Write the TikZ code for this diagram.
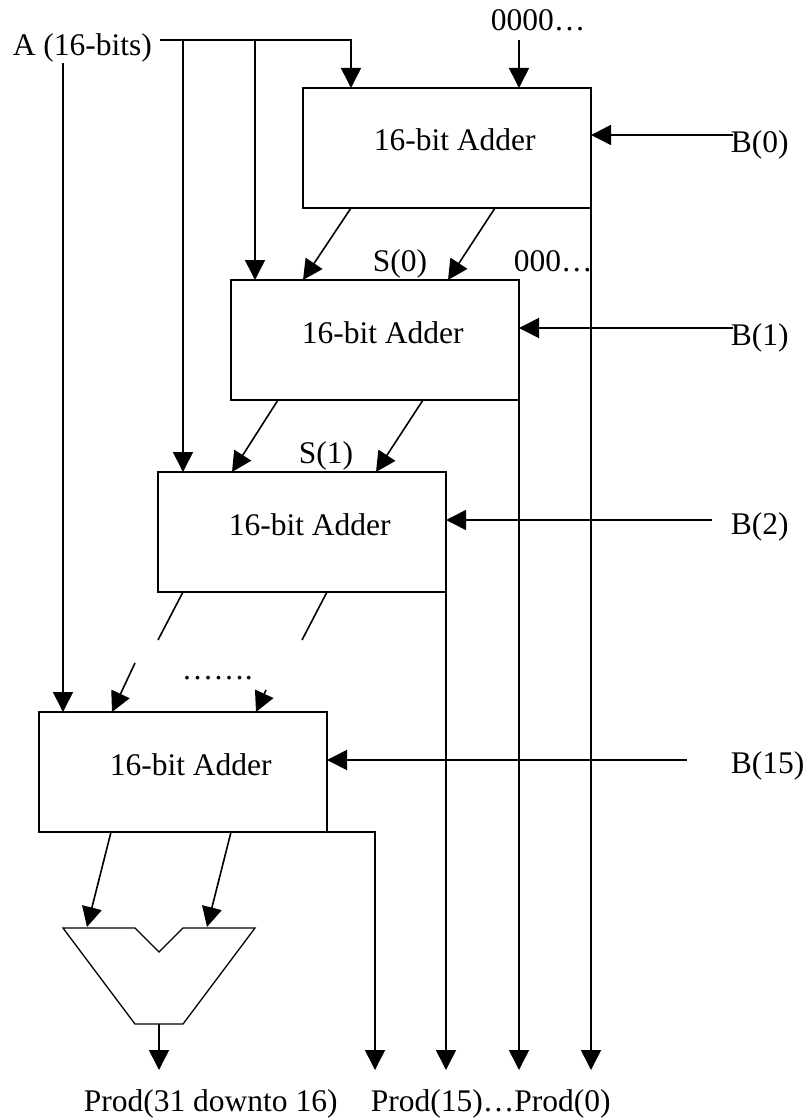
\documentclass[tikz,border=0pt]{standalone}
\usepackage{fontspec}
\setmainfont{Liberation Serif}
\usetikzlibrary{arrows.meta}
\begin{document}
\begin{tikzpicture}[x=1pt,y=-1pt,
  line width=1.6pt,
  every node/.style={inner sep=0pt, font=\fontsize{31.5pt}{36pt}\selectfont},
  adder/.style={draw, rectangle, minimum width=288pt, minimum height=120pt, anchor=north west, outer sep=0pt},
  arr/.style={-{Triangle[length=20pt,width=20pt]}},
  lbl/.style={anchor=base west}]
\useasboundingbox (0,0) rectangle (807,1118);

% adders
\node[adder] (b1) at (303,88) {};
\node[adder] (b2) at (231,280) {};
\node[adder] (b3) at (158,472) {};
\node[adder] (b4) at (39,712) {};
\node[lbl] (t1) at ([xshift=70pt,yshift=-63pt]b1.north west) {16-bit Adder};
\node[lbl] (t2) at ([xshift=70pt,yshift=-63pt]b2.north west) {16-bit Adder};
\node[lbl] (t3) at ([xshift=70pt,yshift=-63pt]b3.north west) {16-bit Adder};
\node[lbl] (t4) at ([xshift=70pt,yshift=-63pt]b4.north west) {16-bit Adder};

% labels
\node[lbl] (A) at (12,56) {A (16-bits)};
\node[lbl] (zeros) at (490,31) {0000…};
\node[lbl] (s0) at (372,271) {S(0)};
\node[lbl] (z3) at (513,271) {000…};
\node[lbl] (s1) at (298,463) {S(1)};
\node[lbl] (B0) at (730,153) {B(0)};
\node[lbl] (B1) at (730,345) {B(1)};
\node[lbl] (B2) at (730,534) {B(2)};
\node[lbl] (B15) at (730,773) {B(15)};
\node[lbl] (dots) at (181,679) {…….};
\node[lbl] (p1) at (83,1111) {Prod(31 downto 16)};
\node[lbl] (p2) at (370,1111) {Prod(15)…Prod(0)};

% A bus
\coordinate (Ast) at (160,40);
\coordinate (A1) at (351,40);
\coordinate (A2) at (255,40);
\coordinate (A3) at (183,40);
\coordinate (A4) at (63,63);
\draw[arr] (Ast) -- (A1) -- (A1 |- b1.north);
\draw[arr] (A2) -- (A2 |- b2.north);
\draw[arr] (A3) -- (A3 |- b3.north);
\draw[arr] (A4) -- (A4 |- b4.north);

% zero input
\coordinate (Z) at (519,40);
\draw[arr] (Z) -- (Z |- b1.north);

% B inputs
\coordinate (B0s) at (733,135);
\coordinate (B1s) at (733,328);
\coordinate (B2s) at (712,520);
\coordinate (B15s) at (687,760);
\draw[arr] (B0s) -- (B0s -| b1.east);
\draw[arr] (B1s) -- (B1s -| b2.east);
\draw[arr] (B2s) -- (B2s -| b3.east);
\draw[arr] (B15s) -- (B15s -| b4.east);

% product outputs
\coordinate (bot) at (0,1070);
\draw[arr] (b1.south east) -- (b1.south east |- bot);
\draw[arr] (b2.south east) -- (b2.south east |- bot);
\draw[arr] (b3.south east) -- (b3.south east |- bot);
\coordinate (P15) at (375,1070);
\draw[arr] (b4.south east) -| (P15);

% sum/carry between adders
\draw[arr] ([xshift=48pt]b1.south west) -- ([xshift=72pt]b2.north west);
\draw[arr] ([xshift=192pt]b1.south west) -- ([xshift=217pt]b2.north west);
\draw[arr] ([xshift=47pt]b2.south west) -- ([xshift=74pt]b3.north west);
\draw[arr] ([xshift=192pt]b2.south west) -- ([xshift=218pt]b3.north west);

% broken arrows b3 -> b4
\coordinate (L1) at (158,640);
\coordinate (L2) at (135,663);
\coordinate (R1) at (302,640);
\coordinate (R2) at (266,690);
\draw ([xshift=25pt]b3.south west) -- (L1);
\draw[arr] (L2) -- ([xshift=73pt]b4.north west);
\draw ([xshift=169pt]b3.south west) -- (R1);
\draw[arr] (R2) -- ([xshift=217pt]b4.north west);

% final adder (mux-like shape)
\coordinate (m1) at (63,928);
\coordinate (m2) at (135,928);
\coordinate (m3) at (159,952);
\coordinate (m4) at (183,928);
\coordinate (m5) at (255,928);
\coordinate (m6) at (183,1024);
\coordinate (m7) at (135,1024);
\coordinate (mo) at (159,1024);
\coordinate (P31) at (159,1070);
\draw[line width=1.3pt, line join=miter] (m1) -- (m2) -- (m3) -- (m4) -- (m5) -- (m6) -- (m7) -- cycle;
\coordinate (mi1) at (87,927);
\coordinate (mi2) at (207,927);
\draw[arr] ([xshift=72pt]b4.south west) -- (mi1);
\draw[arr] ([xshift=192pt]b4.south west) -- (mi2);
\draw[arr] (mo) -- (P31);
\end{tikzpicture}
\end{document}
